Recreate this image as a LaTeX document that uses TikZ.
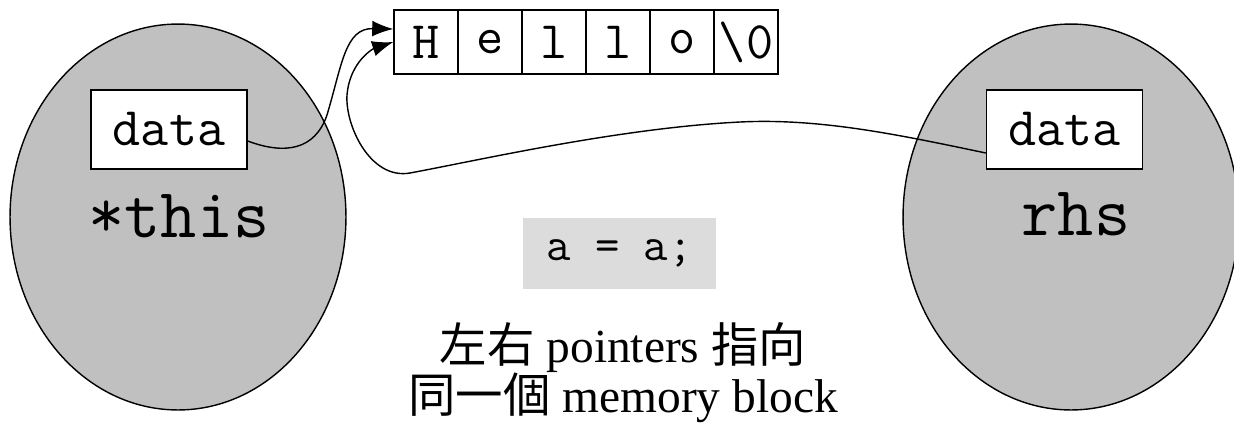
\documentclass[tikz,border=0pt]{standalone}
\usepackage{fontspec}
\setmainfont{Liberation Serif}
\newfontfamily\cjk{Noto Sans CJK TC}
\usetikzlibrary{arrows.meta, shapes.geometric, positioning}
\definecolor{objgray}{HTML}{C0C0C0}
\definecolor{codegray}{HTML}{DCDCDC}

\begin{document}
\begin{tikzpicture}[
    x = 0.02cm, y = -0.02cm, % one unit is one pixel
    > = {Latex[length=12pt, width=9pt]}, % arrow head style
    line width = 0.8pt,
    font = \ttfamily
]

\tikzstyle{object}=[
    ellipse, draw, fill = objgray,
    inner sep = 0pt,
    minimum width = 6.72cm, minimum height = 7.72cm
]
\tikzstyle{field}=[
    draw, fill = white,
    minimum width = 3.12cm, minimum height = 1.58cm,
    font = \fontsize{31}{31}\selectfont\ttfamily
]
\tikzstyle{cell}=[
    draw, minimum size = 1.28cm, inner sep = 0pt,
    font = \fontsize{30}{30}\selectfont\ttfamily
]
\tikzstyle{objname}=[
    anchor = base,
    font = \fontsize{40}{40}\selectfont\ttfamily
]

\useasboundingbox (0,0) rectangle (1234,424);

\node[object] (lobj) at (178,217) {};
\node[object] (robj) at (1071,217) {};

\node[field] (ldata) at (169,129.5) {data};
\node[field] (rdata) at (1064.5,129.5) {data};
\node[objname] (lname) at (179,237) {*this};
\node[objname] (rname) at (1076,235) {rhs};

% the string
\foreach \ch [count=\i] in {H,e,l,l,o,{\textbackslash 0}}
    \node[cell] (c\i) at ({362+64*\i},42) {\ch};

\node[fill = codegray, minimum width = 3.86cm, minimum height = 1.42cm,
    font = \fontsize{27}{27}\selectfont\ttfamily] (assign) at (619.5,253.5) {a = a;};

\node[align = center, font = \fontsize{27}{28.5}\selectfont\rmfamily] (note) at (623,373)
    {{\cjk 左右} pointers {\cjk 指向}\\{\cjk 同一個} memory block};

\draw[->] ([yshift=-0.23cm]ldata.east)
    .. controls (285,155) and (315,150) .. (327,115)
    .. controls (342,65) and (345,28) .. ([yshift=0.26cm]c1.west);

\draw[->] ([yshift=-0.47cm]rdata.west)
    .. controls (900,135) and (820,118) .. (740,122)
    .. controls (620,128) and (480,160) .. (410,173)
    .. controls (370,180) and (345,125) .. (347,95)
    .. controls (350,60) and (375,48) .. (c1.west);
\end{tikzpicture}
\end{document}
